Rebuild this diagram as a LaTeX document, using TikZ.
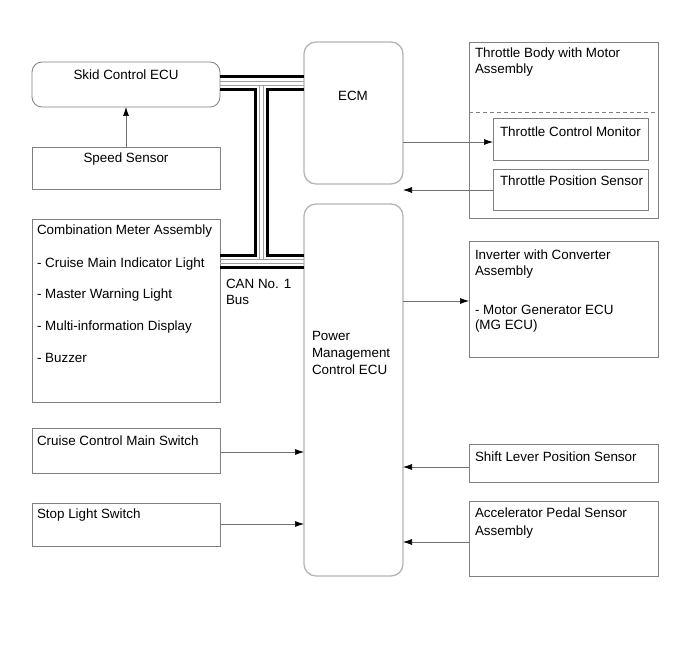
\documentclass[tikz,border=0pt]{standalone}
\usepackage{fontspec}
\setmainfont{Liberation Sans}
\usetikzlibrary{arrows.meta}
\definecolor{boxgray}{HTML}{808080}
\definecolor{ecugray}{HTML}{B4B4B4}
\definecolor{linegray}{HTML}{707070}
\definecolor{busgray}{HTML}{A0A0A0}
\begin{document}
\begin{tikzpicture}[x=1pt,y=-1pt,
  box/.style={draw=boxgray,line width=0.8pt,inner sep=0pt,outer sep=0pt},
  rbox/.style={box,rounded corners=10pt},
  ecu/.style={draw=ecugray,line width=1.3pt,inner sep=0pt,outer sep=0pt,rounded corners=12pt},
  txt/.style={inner sep=0pt,outer sep=0pt,anchor=base west,font=\fontsize{13.4}{16}\selectfont},
  ctxt/.style={txt,anchor=base},
  arr/.style={draw=linegray,line width=0.7pt,-{Latex[length=9pt,width=6pt,color=black]}},
  blackbus/.style={draw=black,line width=3pt},
  graybus/.style={draw=busgray,line width=0.9pt}
]
\useasboundingbox (0,0) rectangle (690,660);

% left column
\node[rbox,minimum width=188pt,minimum height=45pt] (skid) at (126,84.5) {};
\node[ctxt] (skidt) at (126,80) {Skid Control ECU};
\node[box,minimum width=188pt,minimum height=42pt] (speed) at (126,168) {};
\node[ctxt] (speedt) at (126,163) {Speed Sensor};
\node[box,minimum width=188pt,minimum height=183pt] (comb) at (126,310.5) {};
\node[txt] (combt) at (37,235) {Combination Meter Assembly};
\node[txt] (comb1) at (37,267) {- Cruise Main Indicator Light};
\node[txt] (comb2) at (37,298.5) {- Master Warning Light};
\node[txt] (comb3) at (37,330) {- Multi-information Display};
\node[txt] (comb4) at (37,362) {- Buzzer};
\node[box,minimum width=188pt,minimum height=45pt] (cruise) at (126,450.5) {};
\node[txt] (cruiset) at (37,445) {Cruise Control Main Switch};
\node[box,minimum width=188pt,minimum height=43pt] (stop) at (126,524.5) {};
\node[txt] (stopt) at (37,518) {Stop Light Switch};

% middle column
\node[ecu,minimum width=99pt,minimum height=142pt] (ecm) at (353.5,113) {};
\node[ctxt] (ecmt) at (353,101) {ECM};
\node[ecu,minimum width=99pt,minimum height=372pt] (pmc) at (353.5,390) {};
\node[txt] (pmc1) at (312,340) {Power};
\node[txt] (pmc2) at (312,357) {Management};
\node[txt] (pmc3) at (312,374) {Control ECU};
\node[txt] (cant) at (226,288) {CAN No. 1};
\node[txt] (bust) at (226,304) {Bus};

% right column
\node[box,minimum width=189pt,minimum height=176pt] (thr) at (563.5,130) {};
\node[txt] (thrt1) at (475,58) {Throttle Body with Motor};
\node[txt] (thrt2) at (475,74) {Assembly};
\draw[draw=boxgray,line width=0.7pt,dash pattern=on 4pt off 3pt] (thr.west |- 0,112) coordinate (dl) -- (thr.east |- 0,112) coordinate (dr);
\node[box,minimum width=155pt,minimum height=42pt] (tcm) at (570.5,139) {};
\node[txt] (tcmt) at (500,137) {Throttle Control Monitor};
\node[box,minimum width=155pt,minimum height=41pt] (tps) at (570.5,189.5) {};
\node[txt] (tpst) at (500,186) {Throttle Position Sensor};
\node[box,minimum width=189pt,minimum height=116pt] (inv) at (563.5,299) {};
\node[txt] (inv1) at (475,259) {Inverter with Converter};
\node[txt] (inv2) at (475,276) {Assembly};
\node[txt] (inv3) at (475,314) {- Motor Generator ECU};
\node[txt] (inv4) at (475,329) {(MG ECU)};
\node[box,minimum width=189pt,minimum height=38pt] (shift) at (563.5,463) {};
\node[txt] (shiftt) at (475,461) {Shift Lever Position Sensor};
\node[box,minimum width=189pt,minimum height=75pt] (accel) at (563.5,538.5) {};
\node[txt] (accel1) at (475,517) {Accelerator Pedal Sensor};
\node[txt] (accel2) at (475,535) {Assembly};

% arrows
\draw[arr] (speed.north) -- (skid.south);
\draw[arr] (cruise.east |- 0,452) -- (pmc.west |- 0,452);
\draw[arr] (stop.east |- 0,524) -- (pmc.west |- 0,524);
\draw[arr] (ecm.east |- 0,142) -- (tcm.west |- 0,142);
\draw[arr] (tps.west |- 0,190) -- (ecm.east |- 0,190) coordinate (gap);
\draw[arr] (pmc.east |- 0,301) -- (inv.west |- 0,301);
\draw[arr] (shift.west |- 0,467) -- (pmc.east |- 0,467);
\draw[arr] (accel.west |- 0,542) -- (pmc.east |- 0,542);

% CAN bus
\draw[graybus] (skid.east |- 0,81.5) -- (ecm.west |- 0,81.5);
\draw[graybus] (skid.east |- 0,85) -- (ecm.west |- 0,85);
\draw[graybus] (259.5,85) -- (259.5,259.5);
\draw[graybus] (263.5,85) -- (263.5,259.5);
\draw[graybus] (comb.east |- 0,259.5) -- (pmc.west |- 0,259.5);
\draw[graybus] (comb.east |- 0,263) -- (pmc.west |- 0,263);
\draw[blackbus] (skid.east |- 0,77) -- (ecm.west |- 0,77);
\draw[blackbus] (skid.east |- 0,89.5) -- (255.5,89.5) -- (255.5,255) -- (comb.east |- 0,255);
\draw[blackbus] (ecm.west |- 0,89.5) -- (267.5,89.5) -- (267.5,255) -- (pmc.west |- 0,255);
\draw[blackbus] (comb.east |- 0,267.5) -- (pmc.west |- 0,267.5);
\end{tikzpicture}
\end{document}
